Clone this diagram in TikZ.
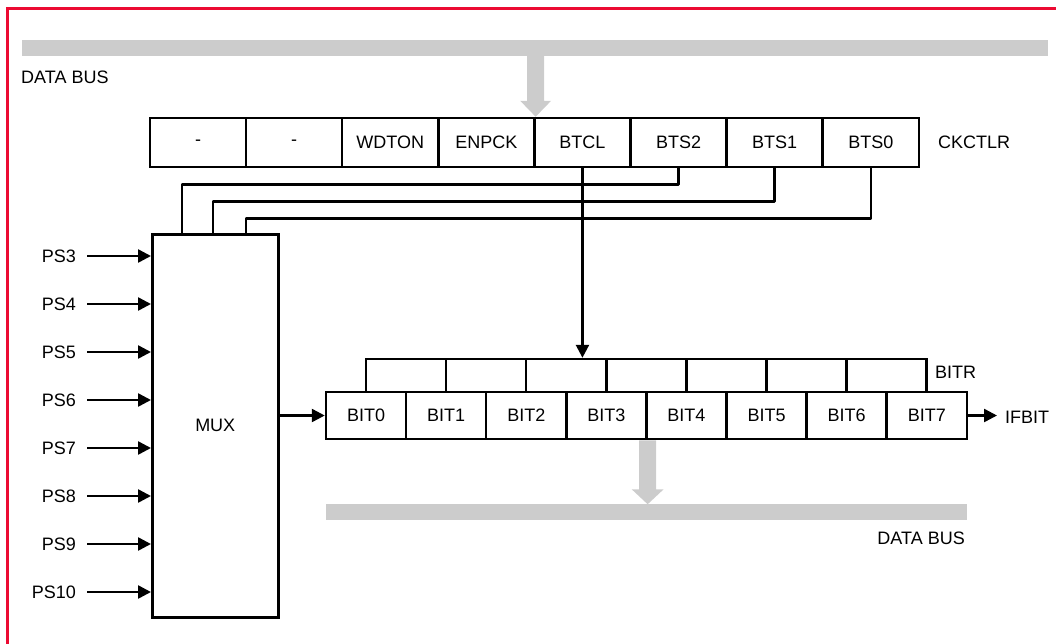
\documentclass[tikz,border=0pt]{standalone}
\usepackage{fontspec}
\setmainfont{Liberation Sans}
\usetikzlibrary{arrows.meta,calc}
\definecolor{frame}{RGB}{236,10,50}
\definecolor{bus}{RGB}{204,204,204}
\tikzset{
  txt/.style={font=\fontsize{18}{21}\selectfont, inner sep=0pt},
  regcell/.style={draw, line width=2.5pt, minimum width=96.1pt, minimum height=49pt, inner sep=0pt, font=\fontsize{18}{21}\selectfont},
  bitcell/.style={draw, line width=2.5pt, minimum width=80.1pt, minimum height=47pt, inner sep=0pt, font=\fontsize{18}{21}\selectfont},
  rcell/.style={draw, line width=2.5pt, minimum width=80.1pt, minimum height=33pt, inner sep=0pt},
  wire/.style={line width=2.5pt, line join=round},
  arr/.style={wire, -{Triangle[length=13pt,width=13pt]}},
  busbar/.style={fill=bus},
}
\begin{document}
\begin{tikzpicture}[x=1pt,y=-1pt]
\useasboundingbox (0,0) rectangle (1056,643);
\clip (0,0) rectangle (1056,643);
% frame
\draw[frame, line width=3pt] (7,700) -- (7,8) -- (1100,8);
% top bus
\fill[busbar] (22,40) rectangle (1048,56);
\node[txt, anchor=west] (dbtop) at (21,77) {DATA BUS};
% CKCTLR register
\foreach \t [count=\i from 0] in {-,-,WDTON,ENPCK,BTCL,BTS2,BTS1,BTS0} {
  \node[regcell] (c\i) at ({150+96.1*(\i+0.5)},142.5) {\t};
}
\node[txt, anchor=west] (ckl) at (938,142) {CKCTLR};
% gray arrow into register
\coordinate (ga) at (c3.north east);
\fill[bus] ($(ga)+(-8.5,-62)$) -- ($(ga)+(8.5,-62)$) -- ($(ga)+(8.5,-16)$) -- ($(ga)+(15.5,-16)$) -- (ga) -- ($(ga)+(-15.5,-16)$) -- ($(ga)+(-8.5,-16)$) -- cycle;
% MUX
\node[draw, line width=2.5pt, minimum width=126pt, minimum height=383pt, inner sep=0pt, txt, anchor=north west] (mux) at (151,233) {MUX};
\coordinate (m1) at (182,233);
\coordinate (m2) at (213,233);
\coordinate (m3) at (246,233);
\draw[wire] (c5.south) -- ++(0,16) -| (m1);
\draw[wire] (c6.south) -- ++(0,33) -| (m2);
\draw[wire] (c7.south) -- ++(0,50) -| (m3);
% inputs
\foreach \p [count=\k from 0] in {PS3,PS4,PS5,PS6,PS7,PS8,PS9,PS10} {
  \node[txt, anchor=east] (p\k) at (76,{256+48*\k}) {\p};
  \coordinate (pa\k) at (87,{256+48*\k});
  \draw[arr] (pa\k) -- (pa\k -| mux.west);
}
% BITR
\foreach \i in {0,...,6} {
  \node[rcell] (r\i) at ({366+80.1*(\i+0.5)},375.5) {};
}
\node[txt, anchor=west] (bitrl) at (935,372) {BITR};
% BIT row
\foreach \t [count=\i from 0] in {BIT0,BIT1,BIT2,BIT3,BIT4,BIT5,BIT6,BIT7} {
  \node[bitcell] (b\i) at ({326+80.1*(\i+0.5)},415.5) {\t};
}
% BTCL arrow
\draw[arr] (c4.south) -- (c4.south |- r2.north);
% MUX -> BIT0
\draw[arr] (mux.east |- b0.west) -- (b0.west);
% IFBIT
\coordinate (ifa) at (997,415.5);
\draw[arr] (b7.east) -- (ifa);
\node[txt, anchor=west] (ifl) at (1005,417) {IFBIT};
% bottom gray arrow and bus
\coordinate (gb) at (b3.south east);
\fill[bus] ($(gb)+(-8.5,0)$) -- ($(gb)+(8.5,0)$) -- ($(gb)+(8.5,49)$) -- ($(gb)+(16,49)$) -- ($(gb)+(0,64)$) -- ($(gb)+(-16,49)$) -- ($(gb)+(-8.5,49)$) -- cycle;
\fill[busbar] (326,504) rectangle (967,520);
\node[txt, anchor=east] (dbbot) at (965,538) {DATA BUS};
\end{tikzpicture}
\end{document}
